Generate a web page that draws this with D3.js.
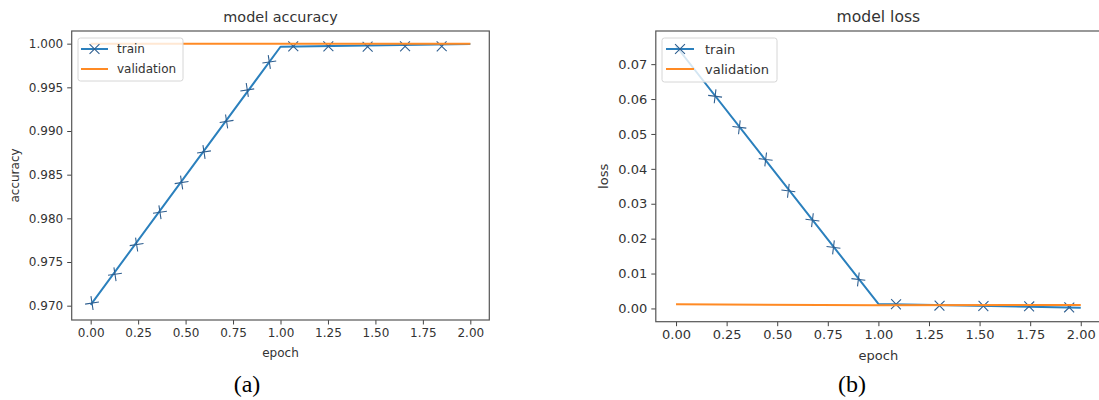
<!DOCTYPE html>
<html><head><meta charset="utf-8">
<script src="https://cdn.jsdelivr.net/npm/d3@7"></script>
<style>body{margin:0;background:#fff}svg{display:block}</style>
</head><body>
<svg id="chart" width="1099" height="400"></svg>
<script>
// ---- data ----
const epochs = [0, 1, 2];
const accTrain = [0.9701, 0.99965, 0.99995];
const accValidation = [1.0, 1.0, 1.0];
const lossTrain = [0.0752, 0.0013, 0.0002];
const lossValidation = [0.0012, 0.0009, 0.0010];
const accMarkerEpochs = [0.007, 0.128, 0.242, 0.365, 0.479, 0.597, 0.716, 0.825, 0.941, 1.067, 1.252, 1.459, 1.656, 1.849];
const accMarkerValues = [0.9703, 0.9736, 0.9770, 0.9807, 0.9841, 0.9876, 0.9911, 0.9947, 0.9979, 0.9997, 0.9997, 0.99965, 0.9997, 0.9997];
const lossMarkerEpochs = [0.193, 0.313, 0.443, 0.555, 0.674, 0.778, 0.901, 1.087, 1.302, 1.519, 1.745, 1.943];
const lossMarkerValues = [0.0608, 0.0519, 0.0427, 0.0337, 0.0253, 0.0175, 0.0083, 0.0012, 0.0008, 0.0007, 0.0006, 0.0003];
const xTicks = [0, 0.25, 0.5, 0.75, 1.0, 1.25, 1.5, 1.75, 2.0];
const accTicks = [0.970, 0.975, 0.980, 0.985, 0.990, 0.995, 1.000];
const lossTicks = [0.00, 0.01, 0.02, 0.03, 0.04, 0.05, 0.06, 0.07];
const seriesNames = ["train", "validation"];
const titles = ["model accuracy", "model loss"];
const yLabels = ["accuracy", "loss"];
const xLabel = "epoch";
const captions = ["(a)", "(b)"];

// ---- layout / style ----
const BLUE = "#2b80bd", ORANGE = "#ff8a24", MARK = "#2f5f90", INK = "#333";
const panels = [
  { title: titles[0], ylabel: yLabels[0], caption: captions[0],
    left: 71.7, right: 489.3, top: 31, bottom: 320,
    xDomain: [-0.1, 2.1], yDomain: [0.96836, 1.00145], yTicks: accTicks, yFmt: ".3f", fs: 12,
    train: accTrain, val: accValidation, mx: accMarkerEpochs, my: accMarkerValues,
    legend: { x: 78, y: 38, w: 105, h: 43, sx0: 3, sx1: 30, tx: 39 },
    ylabelX: 15, xlabelY: 357, titleY: 22, captionX: 247, captionY: 392 },
  { title: titles[1], ylabel: yLabels[1], caption: captions[1],
    left: 655.8, right: 1101, top: 31, bottom: 321.7,
    xDomain: [-0.1, 2.1], yDomain: [-0.0038, 0.0795], yTicks: lossTicks, yFmt: ".2f", fs: 13,
    train: lossTrain, val: lossValidation, mx: lossMarkerEpochs, my: lossMarkerValues,
    legend: { x: 662, y: 38, w: 115, h: 44, sx0: 4, sx1: 32, tx: 43 },
    ylabelX: 603, xlabelY: 360, titleY: 22, captionX: 852, captionY: 392 }
];

const svg = d3.select("#chart");
svg.append("rect").attr("width", 1099).attr("height", 400).attr("fill", "#fff");

function xMarker(g, cx, cy, ang, r) {
  g.append("path")
    .attr("d", `M${-r},0L${r},0M0,${-r}L0,${r}`)
    .attr("transform", `translate(${cx},${cy}) rotate(${ang + 45})`)
    .attr("stroke", MARK).attr("stroke-width", 1.1).attr("fill", "none");
}

panels.forEach(p => {
  const x = d3.scaleLinear().domain(p.xDomain).range([p.left, p.right]);
  const y = d3.scaleLinear().domain(p.yDomain).range([p.bottom, p.top]);
  const g = svg.append("g").style("font-family", "'DejaVu Sans', sans-serif");

  const clipId = "clip" + Math.round(p.left);
  svg.append("clipPath").attr("id", clipId).append("rect")
    .attr("x", p.left).attr("y", p.top).attr("width", p.right - p.left).attr("height", p.bottom - p.top);

  const plot = g.append("g").attr("clip-path", `url(#${clipId})`);
  const line = d3.line().x(d => x(d[0])).y(d => y(d[1]));
  const trainPts = epochs.map((e, i) => [e, p.train[i]]);
  const valPts = epochs.map((e, i) => [e, p.val[i]]);

  plot.append("path").attr("d", line(trainPts)).attr("fill", "none")
    .attr("stroke", BLUE).attr("stroke-width", 2).attr("stroke-linejoin", "round");

  // markers oriented along the line
  p.mx.forEach((e, i) => {
    const seg = e < epochs[1] ? 0 : 1;
    const dx = x(epochs[seg + 1]) - x(epochs[seg]);
    const dy = y(p.train[seg + 1]) - y(p.train[seg]);
    const ang = Math.atan2(dy, dx) * 180 / Math.PI;
    xMarker(plot, x(e), y(p.my[i]), ang, 7);
  });

  plot.append("path").attr("d", line(valPts)).attr("fill", "none")
    .attr("stroke", ORANGE).attr("stroke-width", 2).attr("stroke-linejoin", "round");

  // axes
  const xa = g.append("g").attr("transform", `translate(0,${p.bottom})`)
    .call(d3.axisBottom(x).tickValues(xTicks).tickFormat(d3.format(".2f")).tickSize(4.5).tickPadding(4));
  const ya = g.append("g").attr("transform", `translate(${p.left},0)`)
    .call(d3.axisLeft(y).tickValues(p.yTicks).tickFormat(d3.format(p.yFmt)).tickSize(4.5).tickPadding(4));
  [xa, ya].forEach(a => {
    a.select(".domain").remove();
    a.selectAll(".tick line").attr("stroke", "#444").attr("stroke-width", 1);
    a.selectAll(".tick text").attr("fill", INK).style("font-size", p.fs + "px")
      .style("font-family", "'DejaVu Sans', sans-serif");
  });

  // frame
  g.append("rect").attr("x", p.left).attr("y", p.top)
    .attr("width", p.right - p.left).attr("height", p.bottom - p.top)
    .attr("fill", "none").attr("stroke", "#555").attr("stroke-width", 1.2);

  // legend
  const L = p.legend;
  const lg = g.append("g");
  lg.append("rect").attr("x", L.x).attr("y", L.y).attr("width", L.w).attr("height", L.h)
    .attr("rx", 2.5).attr("fill", "#fff").attr("fill-opacity", 0.8)
    .attr("stroke", "#d6d6d6").attr("stroke-width", 1);
  seriesNames.forEach((name, i) => {
    const ry = L.y + 11 + i * 20;
    lg.append("line").attr("x1", L.x + L.sx0).attr("x2", L.x + L.sx1).attr("y1", ry).attr("y2", ry)
      .attr("stroke", i === 0 ? BLUE : ORANGE).attr("stroke-width", 2);
    if (i === 0) xMarker(lg, (2 * L.x + L.sx0 + L.sx1) / 2, ry, 0, 7);
    lg.append("text").attr("x", L.x + L.tx).attr("y", ry).attr("dy", "0.35em")
      .attr("fill", INK).style("font-size", p.fs + "px").text(name);
  });

  // labels
  g.append("text").attr("x", (p.left + Math.min(p.right, 1101)) / 2).attr("y", p.titleY)
    .attr("text-anchor", "middle").attr("fill", INK).style("font-size", (p.fs * 1.2) + "px").text(p.title);
  g.append("text").attr("x", x(1)).attr("y", p.xlabelY)
    .attr("text-anchor", "middle").attr("fill", INK).style("font-size", p.fs + "px").text(xLabel);
  g.append("text").attr("transform", `translate(${p.ylabelX},${(p.top + p.bottom) / 2}) rotate(-90)`)
    .attr("text-anchor", "middle").attr("dy", "0.35em").attr("fill", INK).style("font-size", p.fs + "px").text(p.ylabel);
  svg.append("text").attr("x", p.captionX).attr("y", p.captionY).attr("text-anchor", "middle")
    .style("font-family", "'Liberation Serif', 'Times New Roman', serif").style("font-size", "24px")
    .attr("fill", "#000").text(p.caption);
});
</script>
</body></html>
